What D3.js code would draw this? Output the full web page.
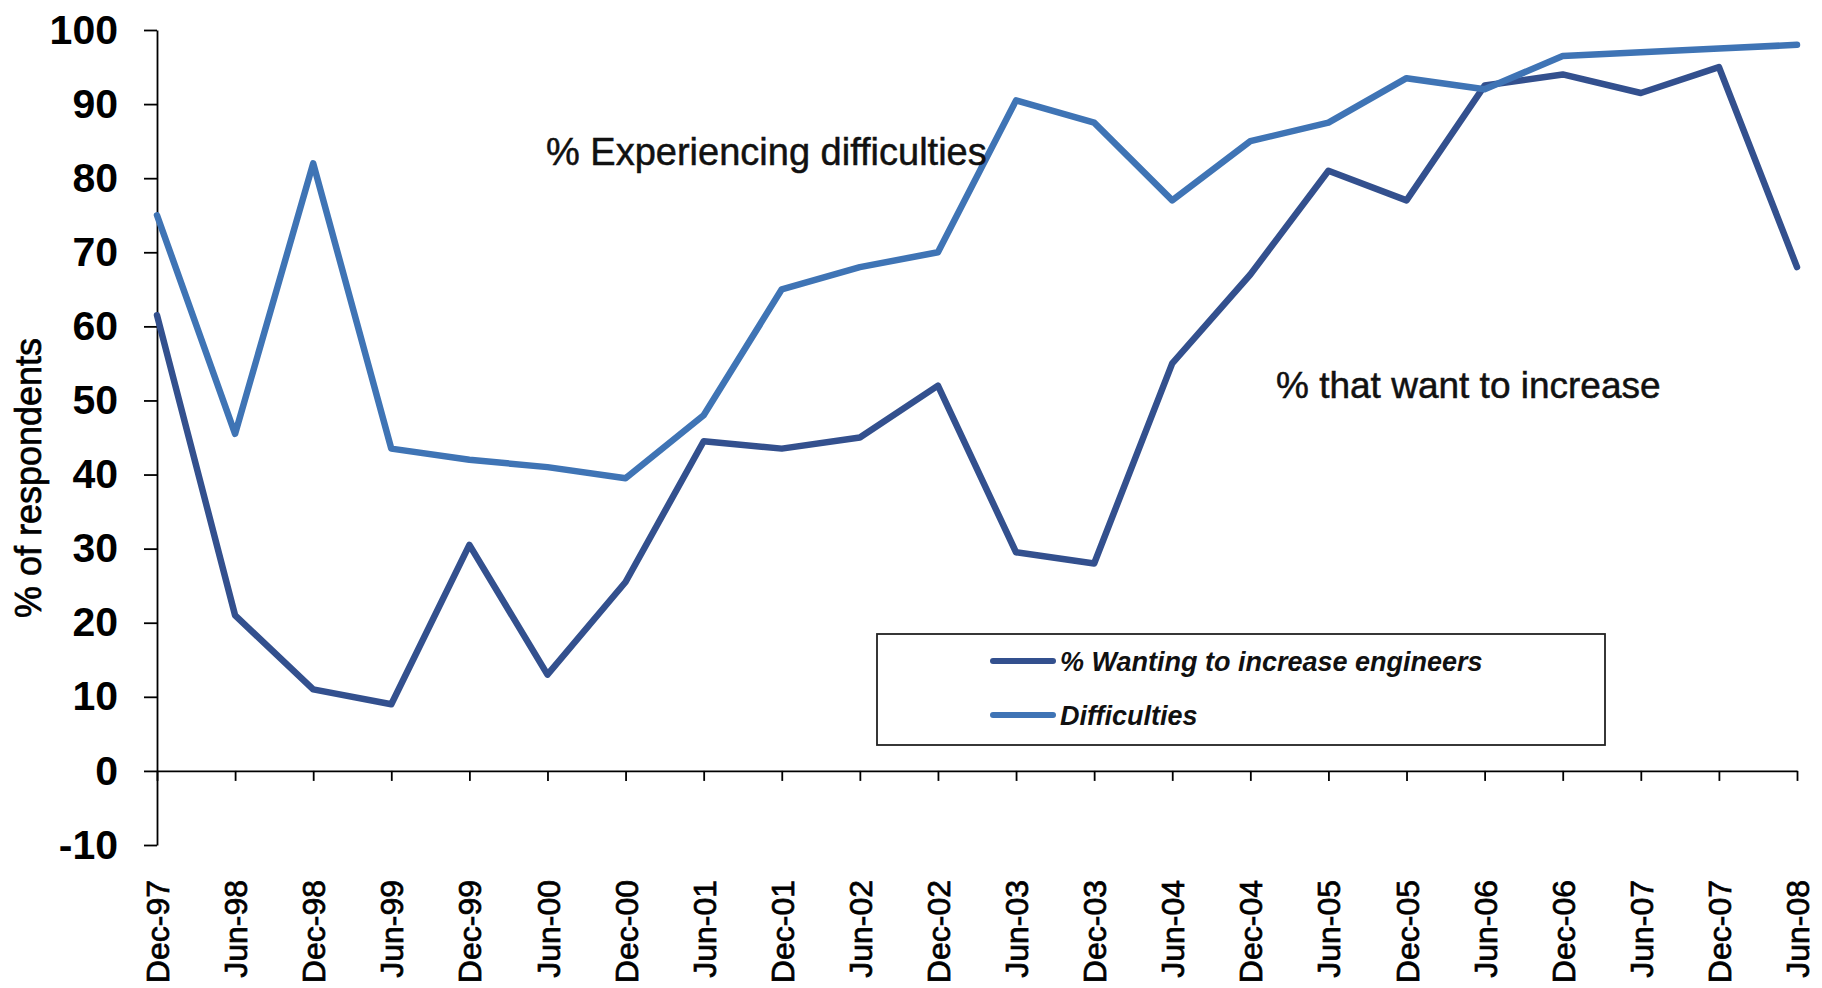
<!DOCTYPE html>
<html>
<head>
<meta charset="utf-8">
<script src="https://cdn.jsdelivr.net/npm/d3@7"></script>
<style>
  html, body { margin: 0; padding: 0; background: #fff; }
  svg { display: block; }
</style>
</head>
<body>
<svg id="chart" width="1822" height="988"></svg>
<script>
// Survey periods (half-yearly)
const periods = ["Dec-97","Jun-98","Dec-98","Jun-99","Dec-99","Jun-00","Dec-00","Jun-01",
  "Dec-01","Jun-02","Dec-02","Jun-03","Dec-03","Jun-04","Dec-04","Jun-05","Dec-05",
  "Jun-06","Dec-06","Jun-07","Dec-07","Jun-08"];

// % of respondents wanting to increase engineers
const wanting = [61.5, 21, 11, 9, 30.5, 13, 25.5, 44.5, 43.5, 45, 52, 29.5, 28, 55, 67, 81, 77,
  92.5, 94, 91.5, 95, 68];

// % of respondents experiencing difficulties
const difficulties = [75, 45.5, 82, 43.5, 42, 41, 39.5, 48, 65, 68, 70, 90.5, 87.5, 77, 85, 87.5,
  93.5, 92, 96.5, 97, 97.5, 98];

const yTicks = [-10, 0, 10, 20, 30, 40, 50, 60, 70, 80, 90, 100];

const seriesNames = ["% Wanting to increase engineers", "Difficulties"];
const seriesColors = ["#33508e", "#3f74b5"];

const svg = d3.select("#chart");
const font = "'Liberation Sans', Arial, sans-serif";

const x = d3.scalePoint().domain(periods).range([157, 1797]);
const y = d3.scaleLinear().domain([-10, 100]).range([845, 30]);

// Y axis
const yAxis = svg.append("g")
  .attr("transform", `translate(${x(periods[0])},0)`)
  .call(d3.axisLeft(y).tickValues(yTicks).tickFormat(d => String(d))
    .tickSize(13).tickSizeOuter(0).tickPadding(26));
yAxis.select(".domain").attr("stroke", "#000").attr("stroke-width", 1.8);
yAxis.selectAll(".tick line").attr("stroke", "#000").attr("stroke-width", 1.8);
yAxis.selectAll(".tick text")
  .attr("fill", "#000")
  .style("font-family", font)
  .style("font-size", "41px")
  .style("font-weight", "bold");

// X axis drawn along the zero line
const xAxis = svg.append("g")
  .attr("transform", `translate(0,${y(0)})`)
  .call(d3.axisBottom(x).tickSize(10).tickSizeOuter(0).tickPadding(0));
xAxis.select(".domain").attr("stroke", "#000").attr("stroke-width", 1.8);
xAxis.selectAll(".tick line").attr("stroke", "#000").attr("stroke-width", 1.8);
xAxis.selectAll(".tick text")
  .attr("fill", "#000")
  .attr("stroke", "#000")
  .attr("stroke-width", 0.7)
  .style("font-family", font)
  .style("font-size", "32px")
  .attr("text-anchor", "end")
  .attr("transform", `translate(0,${880 - y(0)}) rotate(-90)`)
  .attr("x", 0)
  .attr("y", 0)
  .attr("dy", "0.36em");

// Y axis title
svg.append("text")
  .attr("transform", "translate(41,478) rotate(-90)")
  .attr("text-anchor", "middle")
  .style("font-family", font)
  .style("font-size", "36px")
  .attr("fill", "#000")
  .attr("stroke", "#000")
  .attr("stroke-width", 0.7)
  .text("% of respondents");

// Lines
const line = d3.line()
  .x((d, i) => x(periods[i]))
  .y(d => y(d));

[wanting, difficulties].forEach((vals, k) => {
  svg.append("path")
    .datum(vals)
    .attr("fill", "none")
    .attr("stroke", seriesColors[k])
    .attr("stroke-width", 6.5)
    .attr("stroke-linejoin", "round")
    .attr("stroke-linecap", "round")
    .attr("d", line);
});

// Annotations
svg.append("text")
  .attr("x", 546).attr("y", 165)
  .style("font-family", font)
  .style("font-size", "38px")
  .attr("fill", "#111")
  .attr("stroke", "#111")
  .attr("stroke-width", 0.5)
  .text("% Experiencing difficulties");

svg.append("text")
  .attr("x", 1276).attr("y", 398)
  .style("font-family", font)
  .style("font-size", "37px")
  .attr("fill", "#111")
  .attr("stroke", "#111")
  .attr("stroke-width", 0.5)
  .text("% that want to increase");

// Legend
const legend = svg.append("g");
legend.append("rect")
  .attr("x", 877).attr("y", 634)
  .attr("width", 728).attr("height", 111)
  .attr("fill", "#fff")
  .attr("stroke", "#222")
  .attr("stroke-width", 1.8);

const legendRows = [661, 715];
seriesNames.forEach((name, k) => {
  legend.append("line")
    .attr("x1", 993).attr("x2", 1053)
    .attr("y1", legendRows[k]).attr("y2", legendRows[k])
    .attr("stroke", seriesColors[k])
    .attr("stroke-width", 6)
    .attr("stroke-linecap", "round");
  legend.append("text")
    .attr("x", 1060).attr("y", legendRows[k] + 10)
    .style("font-family", font)
    .style("font-size", "27px")
    .style("font-style", "italic")
    .style("font-weight", "bold")
    .attr("fill", "#111")
    .text(name);
});
</script>
</body>
</html>
